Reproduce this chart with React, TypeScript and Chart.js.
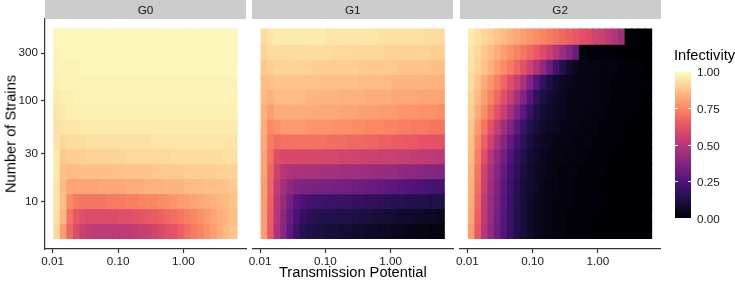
import React, { useEffect, useRef } from 'react';
import { Chart, registerables } from 'chart.js';

Chart.register(...registerables);

// ---------------- data ----------------
const facetNames = ['G0', 'G1', 'G2'];

// column centres (Transmission Potential)
const transmissionPotential = [
  0.01175, 0.01479, 0.01862, 0.02344, 0.02951, 0.03715, 0.04677, 0.05888, 0.07413, 0.09333,
  0.1175, 0.1479, 0.1862, 0.2344, 0.2951, 0.3715, 0.4677, 0.5888, 0.7413, 0.9333,
  1.175, 1.479, 1.862, 2.344, 2.951, 3.715, 4.677, 5.888,
];

// row centres (Number of Strains), bottom to top
const numberOfStrains = [5.1, 7.2, 10.1, 14.3, 20.1, 28.3, 39.8, 56.1, 78.9, 111, 156, 220, 310, 437];

const xTickValues = [0.01, 0.1, 1];
const xTickLabels = ['0.01', '0.10', '1.00'];
const yTickValues = [10, 30, 100, 300];
const yTickLabels = ['10', '30', '100', '300'];
const legendTickValues = [0, 0.25, 0.5, 0.75, 1];
const legendTickLabels = ['0.00', '0.25', '0.50', '0.75', '1.00'];

// infectivity, rows bottom (fewest strains) to top, 28 columns each
const infectivityG0 = [
  [0.92, 0.80, 0.68, 0.60, 0.55, 0.53, 0.52, 0.52, 0.52, 0.52, 0.52, 0.52, 0.53, 0.54, 0.55, 0.57, 0.59, 0.61, 0.63, 0.66, 0.69, 0.72, 0.74, 0.77, 0.80, 0.83, 0.86, 0.88],
  [0.94, 0.85, 0.70, 0.64, 0.61, 0.60, 0.60, 0.60, 0.60, 0.60, 0.61, 0.61, 0.62, 0.63, 0.64, 0.65, 0.66, 0.68, 0.69, 0.71, 0.73, 0.75, 0.77, 0.79, 0.81, 0.83, 0.85, 0.87],
  [0.95, 0.87, 0.76, 0.72, 0.71, 0.71, 0.71, 0.71, 0.72, 0.72, 0.72, 0.73, 0.73, 0.74, 0.75, 0.75, 0.76, 0.77, 0.78, 0.79, 0.80, 0.81, 0.82, 0.83, 0.84, 0.85, 0.86, 0.88],
  [0.95, 0.86, 0.81, 0.81, 0.81, 0.81, 0.81, 0.82, 0.82, 0.82, 0.82, 0.83, 0.83, 0.83, 0.84, 0.84, 0.84, 0.85, 0.85, 0.85, 0.86, 0.86, 0.86, 0.87, 0.87, 0.87, 0.88, 0.89],
  [0.96, 0.87, 0.86, 0.86, 0.87, 0.87, 0.87, 0.87, 0.87, 0.87, 0.88, 0.88, 0.88, 0.88, 0.88, 0.89, 0.89, 0.89, 0.89, 0.89, 0.90, 0.90, 0.90, 0.90, 0.90, 0.91, 0.91, 0.91],
  [0.96, 0.89, 0.90, 0.90, 0.90, 0.91, 0.91, 0.91, 0.91, 0.91, 0.91, 0.92, 0.92, 0.92, 0.92, 0.92, 0.92, 0.92, 0.93, 0.93, 0.93, 0.93, 0.93, 0.93, 0.93, 0.93, 0.94, 0.94],
  [0.95, 0.92, 0.93, 0.93, 0.93, 0.94, 0.94, 0.94, 0.94, 0.94, 0.94, 0.94, 0.94, 0.94, 0.94, 0.95, 0.95, 0.95, 0.95, 0.95, 0.95, 0.95, 0.95, 0.95, 0.95, 0.95, 0.95, 0.95],
  [0.94, 0.95, 0.95, 0.95, 0.96, 0.96, 0.96, 0.96, 0.96, 0.96, 0.96, 0.96, 0.96, 0.96, 0.96, 0.96, 0.96, 0.96, 0.96, 0.96, 0.96, 0.96, 0.96, 0.96, 0.96, 0.96, 0.96, 0.96],
  [0.95, 0.96, 0.97, 0.97, 0.97, 0.97, 0.97, 0.97, 0.97, 0.97, 0.97, 0.97, 0.97, 0.97, 0.97, 0.97, 0.97, 0.97, 0.97, 0.97, 0.97, 0.97, 0.97, 0.97, 0.97, 0.97, 0.97, 0.97],
  [0.96, 0.97, 0.97, 0.98, 0.98, 0.98, 0.98, 0.98, 0.98, 0.98, 0.98, 0.98, 0.98, 0.98, 0.98, 0.98, 0.98, 0.98, 0.98, 0.98, 0.98, 0.98, 0.98, 0.98, 0.98, 0.98, 0.98, 0.98],
  [0.97, 0.98, 0.98, 0.98, 0.98, 0.98, 0.98, 0.98, 0.98, 0.98, 0.98, 0.98, 0.98, 0.98, 0.98, 0.98, 0.98, 0.98, 0.98, 0.98, 0.98, 0.98, 0.98, 0.98, 0.98, 0.98, 0.98, 0.98],
  [0.98, 0.98, 0.98, 0.98, 0.99, 0.99, 0.99, 0.99, 0.99, 0.99, 0.99, 0.99, 0.99, 0.99, 0.99, 0.99, 0.99, 0.99, 0.99, 0.99, 0.99, 0.99, 0.99, 0.99, 0.99, 0.99, 0.99, 0.99],
  [0.98, 0.99, 0.99, 0.99, 0.99, 0.99, 0.99, 0.99, 0.99, 0.99, 0.99, 0.99, 0.99, 0.99, 0.99, 0.99, 0.99, 0.99, 0.99, 0.99, 0.99, 0.99, 0.99, 0.99, 0.99, 0.99, 0.99, 0.99],
  [0.99, 0.99, 0.99, 0.99, 0.99, 0.99, 0.99, 0.99, 0.99, 0.99, 0.99, 0.99, 0.99, 0.99, 0.99, 0.99, 0.99, 0.99, 0.99, 0.99, 0.99, 0.99, 0.99, 0.99, 0.99, 0.99, 0.99, 0.99],
];

const infectivityG1 = [
  [0.80, 0.64, 0.48, 0.38, 0.28, 0.20, 0.15, 0.13, 0.12, 0.11, 0.10, 0.10, 0.09, 0.09, 0.08, 0.08, 0.07, 0.07, 0.06, 0.06, 0.05, 0.05, 0.04, 0.04, 0.03, 0.03, 0.02, 0.02],
  [0.80, 0.65, 0.50, 0.40, 0.31, 0.23, 0.18, 0.16, 0.15, 0.14, 0.14, 0.13, 0.13, 0.12, 0.12, 0.11, 0.11, 0.10, 0.10, 0.09, 0.09, 0.08, 0.08, 0.07, 0.07, 0.06, 0.06, 0.05],
  [0.80, 0.66, 0.51, 0.42, 0.34, 0.27, 0.24, 0.22, 0.21, 0.21, 0.20, 0.20, 0.19, 0.19, 0.18, 0.18, 0.17, 0.17, 0.16, 0.16, 0.15, 0.15, 0.14, 0.14, 0.13, 0.13, 0.12, 0.12],
  [0.80, 0.67, 0.53, 0.45, 0.40, 0.37, 0.36, 0.36, 0.35, 0.35, 0.35, 0.34, 0.34, 0.33, 0.33, 0.32, 0.31, 0.31, 0.30, 0.29, 0.28, 0.27, 0.26, 0.25, 0.24, 0.23, 0.22, 0.22],
  [0.81, 0.68, 0.56, 0.50, 0.48, 0.47, 0.47, 0.47, 0.47, 0.46, 0.46, 0.46, 0.45, 0.45, 0.45, 0.44, 0.44, 0.43, 0.43, 0.42, 0.42, 0.41, 0.40, 0.40, 0.39, 0.38, 0.38, 0.37],
  [0.81, 0.70, 0.61, 0.59, 0.59, 0.59, 0.59, 0.59, 0.58, 0.58, 0.58, 0.58, 0.57, 0.57, 0.57, 0.56, 0.56, 0.56, 0.55, 0.55, 0.55, 0.54, 0.54, 0.53, 0.53, 0.52, 0.52, 0.51],
  [0.82, 0.72, 0.69, 0.70, 0.70, 0.70, 0.70, 0.70, 0.70, 0.70, 0.69, 0.69, 0.69, 0.68, 0.68, 0.68, 0.67, 0.67, 0.66, 0.66, 0.65, 0.65, 0.64, 0.64, 0.63, 0.63, 0.62, 0.62],
  [0.83, 0.75, 0.77, 0.79, 0.79, 0.79, 0.79, 0.78, 0.78, 0.78, 0.78, 0.77, 0.77, 0.77, 0.76, 0.76, 0.75, 0.75, 0.75, 0.74, 0.74, 0.73, 0.73, 0.72, 0.72, 0.72, 0.71, 0.71],
  [0.84, 0.80, 0.83, 0.83, 0.83, 0.83, 0.83, 0.83, 0.82, 0.82, 0.82, 0.82, 0.81, 0.81, 0.81, 0.80, 0.80, 0.80, 0.79, 0.79, 0.79, 0.78, 0.78, 0.78, 0.77, 0.77, 0.77, 0.76],
  [0.86, 0.84, 0.86, 0.86, 0.86, 0.86, 0.86, 0.85, 0.85, 0.85, 0.85, 0.85, 0.84, 0.84, 0.84, 0.84, 0.83, 0.83, 0.83, 0.83, 0.82, 0.82, 0.82, 0.82, 0.81, 0.81, 0.81, 0.81],
  [0.87, 0.87, 0.88, 0.88, 0.88, 0.88, 0.88, 0.88, 0.88, 0.87, 0.87, 0.87, 0.87, 0.87, 0.87, 0.86, 0.86, 0.86, 0.86, 0.86, 0.85, 0.85, 0.85, 0.85, 0.85, 0.84, 0.84, 0.84],
  [0.89, 0.90, 0.91, 0.91, 0.91, 0.91, 0.91, 0.91, 0.90, 0.90, 0.90, 0.90, 0.90, 0.90, 0.90, 0.89, 0.89, 0.89, 0.89, 0.89, 0.89, 0.88, 0.88, 0.88, 0.88, 0.88, 0.87, 0.87],
  [0.91, 0.93, 0.93, 0.93, 0.93, 0.93, 0.93, 0.93, 0.93, 0.93, 0.93, 0.92, 0.92, 0.92, 0.92, 0.92, 0.92, 0.92, 0.92, 0.91, 0.91, 0.91, 0.91, 0.91, 0.91, 0.91, 0.90, 0.90],
  [0.93, 0.95, 0.96, 0.96, 0.96, 0.96, 0.96, 0.96, 0.96, 0.96, 0.95, 0.95, 0.95, 0.95, 0.95, 0.95, 0.95, 0.95, 0.94, 0.94, 0.94, 0.94, 0.94, 0.94, 0.94, 0.93, 0.93, 0.93],
];

const infectivityG2 = [
  [0.80, 0.64, 0.50, 0.41, 0.33, 0.26, 0.19, 0.14, 0.10, 0.07, 0.05, 0.04, 0.03, 0.02, 0.02, 0.01, 0.01, 0.01, 0.01, 0.00, 0.00, 0.00, 0.00, 0.00, 0.00, 0.00, 0.00, 0.00],
  [0.82, 0.66, 0.52, 0.42, 0.34, 0.26, 0.19, 0.14, 0.10, 0.07, 0.05, 0.04, 0.03, 0.02, 0.02, 0.01, 0.01, 0.01, 0.01, 0.00, 0.00, 0.00, 0.00, 0.00, 0.00, 0.00, 0.00, 0.00],
  [0.83, 0.68, 0.53, 0.43, 0.35, 0.27, 0.20, 0.14, 0.10, 0.07, 0.05, 0.04, 0.03, 0.02, 0.02, 0.02, 0.01, 0.01, 0.01, 0.01, 0.00, 0.00, 0.00, 0.00, 0.00, 0.00, 0.00, 0.00],
  [0.84, 0.69, 0.55, 0.44, 0.36, 0.28, 0.21, 0.15, 0.10, 0.08, 0.06, 0.04, 0.03, 0.03, 0.02, 0.02, 0.01, 0.01, 0.01, 0.01, 0.00, 0.00, 0.00, 0.00, 0.00, 0.00, 0.00, 0.00],
  [0.85, 0.71, 0.57, 0.46, 0.38, 0.30, 0.22, 0.16, 0.11, 0.08, 0.06, 0.05, 0.04, 0.03, 0.02, 0.02, 0.02, 0.01, 0.01, 0.01, 0.01, 0.00, 0.00, 0.00, 0.00, 0.00, 0.00, 0.00],
  [0.86, 0.73, 0.61, 0.50, 0.41, 0.33, 0.25, 0.18, 0.13, 0.09, 0.07, 0.05, 0.04, 0.03, 0.03, 0.02, 0.02, 0.02, 0.01, 0.01, 0.01, 0.01, 0.00, 0.00, 0.00, 0.00, 0.00, 0.00],
  [0.87, 0.76, 0.66, 0.56, 0.47, 0.38, 0.30, 0.22, 0.16, 0.11, 0.08, 0.06, 0.05, 0.04, 0.03, 0.03, 0.02, 0.02, 0.02, 0.01, 0.01, 0.01, 0.01, 0.00, 0.00, 0.00, 0.00, 0.00],
  [0.88, 0.79, 0.71, 0.62, 0.54, 0.45, 0.37, 0.28, 0.20, 0.14, 0.10, 0.08, 0.06, 0.05, 0.04, 0.03, 0.03, 0.02, 0.02, 0.02, 0.01, 0.01, 0.01, 0.01, 0.00, 0.00, 0.00, 0.00],
  [0.90, 0.83, 0.76, 0.69, 0.62, 0.54, 0.46, 0.37, 0.28, 0.19, 0.13, 0.09, 0.07, 0.06, 0.05, 0.04, 0.03, 0.03, 0.02, 0.02, 0.02, 0.01, 0.01, 0.01, 0.01, 0.00, 0.00, 0.00],
  [0.91, 0.86, 0.80, 0.74, 0.68, 0.61, 0.54, 0.46, 0.37, 0.27, 0.18, 0.12, 0.09, 0.07, 0.05, 0.04, 0.04, 0.03, 0.03, 0.02, 0.02, 0.02, 0.01, 0.01, 0.01, 0.01, 0.00, 0.00],
  [0.93, 0.88, 0.83, 0.78, 0.73, 0.67, 0.61, 0.55, 0.47, 0.37, 0.27, 0.18, 0.12, 0.08, 0.06, 0.05, 0.04, 0.03, 0.03, 0.02, 0.02, 0.02, 0.01, 0.01, 0.01, 0.01, 0.00, 0.00],
  [0.94, 0.91, 0.88, 0.84, 0.80, 0.76, 0.72, 0.67, 0.62, 0.56, 0.49, 0.41, 0.32, 0.22, 0.14, 0.08, 0.05, 0.04, 0.03, 0.03, 0.02, 0.02, 0.02, 0.01, 0.01, 0.01, 0.01, 0.00],
  [0.95, 0.92, 0.89, 0.86, 0.83, 0.80, 0.77, 0.74, 0.71, 0.68, 0.64, 0.60, 0.55, 0.50, 0.44, 0.38, 0.31, 0.02, 0.01, 0.01, 0.01, 0.01, 0.00, 0.00, 0.00, 0.00, 0.00, 0.00],
  [0.96, 0.94, 0.92, 0.90, 0.88, 0.86, 0.84, 0.82, 0.80, 0.78, 0.76, 0.74, 0.72, 0.70, 0.68, 0.66, 0.64, 0.62, 0.60, 0.57, 0.55, 0.52, 0.49, 0.45, 0.00, 0.00, 0.00, 0.00],
];

const facetValues = [infectivityG0, infectivityG1, infectivityG2];

// ---------------- style / layout ----------------
const W = 735;
const H = 282;
const FONT = "'Liberation Sans', Arial, Helvetica, sans-serif";
const PANEL_LEFTS = [45, 252.3, 459.6];
const PANEL_W = 201;
const PANEL_TOP = 19;
const PANEL_BOTTOM = 249;
const Y_AXIS_W = 45;
const X_MIN = Math.log10(0.00762);
const X_MAX = Math.log10(9.12);
const Y_MIN = Math.log10(3.365);
const Y_MAX = Math.log10(654.6);
const AXIS_COLOR = '#333333';
const TEXT_COLOR = '#1a1a1a';
const STRIP_FILL = '#cccccc';

const MAGMA = ['#000004', '#1d1147', '#51127c', '#822681', '#b63679', '#e65164', '#fb8861', '#fec287', '#fcfdbf'];

function hexToRgb(h: string) {
  return [parseInt(h.slice(1, 3), 16), parseInt(h.slice(3, 5), 16), parseInt(h.slice(5, 7), 16)];
}
const MAGMA_RGB = MAGMA.map(hexToRgb);

function magma(v: number) {
  const t = Math.max(0, Math.min(1, v)) * (MAGMA_RGB.length - 1);
  const i = Math.min(Math.floor(t), MAGMA_RGB.length - 2);
  const f = t - i;
  const a = MAGMA_RGB[i];
  const b = MAGMA_RGB[i + 1];
  const c = a.map((x, k) => Math.round(x + (b[k] - x) * f));
  return `rgb(${c[0]},${c[1]},${c[2]})`;
}

// tile edges in log space, like geom_tile
const rowLog = numberOfStrains.map((s) => Math.log10(s));
const rowEdges = rowLog.map((c, i) => {
  const below = i > 0 ? (c + rowLog[i - 1]) / 2 : c - (rowLog[i + 1] - c) / 2;
  const above = i < rowLog.length - 1 ? (c + rowLog[i + 1]) / 2 : c + (c - rowLog[i - 1]) / 2;
  return [below, above];
});

function buildChart(canvas: HTMLCanvasElement, facet: number) {
  const values = facetValues[facet];
  const cells: { x: number; y: number[] }[] = [];
  const colors: string[] = [];
  numberOfStrains.forEach((_s, r) => {
    transmissionPotential.forEach((tp, c) => {
      cells.push({ x: Math.log10(tp), y: rowEdges[r] });
      colors.push(magma(values[r][c]));
    });
  });

  const panelLeft = PANEL_LEFTS[facet];
  const showY = facet === 0;

  const gridCfg = {
    display: true,
    offset: false,
    drawOnChartArea: false,
    drawTicks: true,
    tickLength: 4,
    tickWidth: 1.2,
    tickColor: AXIS_COLOR,
    color: AXIS_COLOR,
  };

  const yScale: any = {
    type: 'linear',
    display: showY,
    min: Y_MIN,
    max: Y_MAX,
    beginAtZero: false,
    offset: false,
    grid: gridCfg,
    border: { display: true, color: AXIS_COLOR, width: 1.2 },
    afterBuildTicks: (scale: any) => {
      scale.ticks = yTickValues.map((v) => ({ value: Math.log10(v) }));
    },
    ticks: {
      autoSkip: false,
      padding: 3,
      color: TEXT_COLOR,
      font: { family: FONT, size: 11.7 },
      callback: (_v: any, i: number) => yTickLabels[i],
    },
  };
  if (showY) {
    yScale.afterFit = (scale: any) => {
      scale.width = Y_AXIS_W;
    };
  }

  return new Chart(canvas, {
    type: 'bar',
    data: {
      datasets: [
        {
          data: cells as any,
          backgroundColor: colors,
          borderWidth: 0,
          barPercentage: 1,
          categoryPercentage: 1,
          inflateAmount: 0.7,
        },
      ],
    },
    options: {
      animation: false,
      responsive: false,
      maintainAspectRatio: false,
      events: [],
      layout: {
        padding: {
          left: showY ? panelLeft - Y_AXIS_W : panelLeft,
          right: W - (panelLeft + PANEL_W),
          top: PANEL_TOP,
          bottom: 0,
        },
      },
      plugins: {
        legend: { display: false },
        tooltip: { enabled: false },
        title: { display: false },
      },
      scales: {
        x: {
          type: 'linear',
          min: X_MIN,
          max: X_MAX,
          offset: false,
          grid: gridCfg,
          border: { display: true, color: AXIS_COLOR, width: 1.2 },
          afterBuildTicks: (scale: any) => {
            scale.ticks = xTickValues.map((v) => ({ value: Math.log10(v) }));
          },
          afterFit: (scale: any) => {
            scale.height = H - PANEL_BOTTOM;
          },
          ticks: {
            autoSkip: false,
            maxRotation: 0,
            minRotation: 0,
            padding: 2,
            color: TEXT_COLOR,
            font: { family: FONT, size: 11.7 },
            callback: (_v: any, i: number) => xTickLabels[i],
          },
        },
        y: yScale,
      },
    } as any,
  });
}

// legend geometry
const BAR_LEFT = 675;
const BAR_TOP = 71.7;
const BAR_W = 16;
const BAR_H = 146.6;

export default function App() {
  const ref0 = useRef<HTMLCanvasElement>(null);
  const ref1 = useRef<HTMLCanvasElement>(null);
  const ref2 = useRef<HTMLCanvasElement>(null);
  const refs = [ref0, ref1, ref2];

  useEffect(() => {
    const charts = refs.map((r, i) => buildChart(r.current as HTMLCanvasElement, i));
    return () => charts.forEach((c) => c.destroy());
  }, []);

  const gradient = `linear-gradient(to top, ${MAGMA.map((c, i) => `${c} ${(i / (MAGMA.length - 1)) * 100}%`).join(', ')})`;

  return (
    <div
      style={{
        position: 'fixed',
        left: 0,
        top: 0,
        width: W,
        height: H,
        background: '#ffffff',
        overflow: 'hidden',
        fontFamily: FONT,
      }}
    >
      {facetNames.map((n, i) => (
        <canvas
          key={'c' + n}
          ref={refs[i]}
          width={W}
          height={H}
          style={{ position: 'absolute', left: 0, top: 0, width: W, height: H }}
        />
      ))}
      {facetNames.map((n, i) => (
        <div
          key={'s' + n}
          style={{
            position: 'absolute',
            left: PANEL_LEFTS[i],
            top: 0,
            width: PANEL_W,
            height: PANEL_TOP,
            background: STRIP_FILL,
            color: TEXT_COLOR,
            fontSize: 11.7,
            lineHeight: PANEL_TOP + 'px',
            textAlign: 'center',
          }}
        >
          {n}
        </div>
      ))}
      <div
        style={{
          position: 'absolute',
          left: PANEL_LEFTS[0],
          width: PANEL_LEFTS[2] + PANEL_W - PANEL_LEFTS[0],
          top: 263.6,
          fontSize: 14.67,
          lineHeight: '17px',
          textAlign: 'center',
          color: '#000',
          whiteSpace: 'nowrap',
        }}
      >
        Transmission Potential
      </div>
      <div
        style={{
          position: 'absolute',
          left: 11,
          top: (PANEL_TOP + PANEL_BOTTOM) / 2,
          fontSize: 14.67,
          lineHeight: '17px',
          color: '#000',
          whiteSpace: 'nowrap',
          transform: 'translate(-50%, -50%) rotate(-90deg)',
        }}
      >
        Number of Strains
      </div>
      <div
        style={{
          position: 'absolute',
          left: 674,
          top: 47.4,
          fontSize: 14.67,
          lineHeight: '17px',
          color: '#000',
          whiteSpace: 'nowrap',
        }}
      >
        Infectivity
      </div>
      <div
        style={{
          position: 'absolute',
          left: BAR_LEFT,
          top: BAR_TOP,
          width: BAR_W,
          height: BAR_H,
          background: gradient,
        }}
      />
      {legendTickValues
        .filter((v) => v > 0 && v < 1)
        .map((v) => {
          const y = BAR_TOP + (1 - v) * BAR_H;
          return (
            <React.Fragment key={'t' + v}>
              <div style={{ position: 'absolute', left: BAR_LEFT, top: y - 0.5, width: 3, height: 1, background: '#fff' }} />
              <div style={{ position: 'absolute', left: BAR_LEFT + BAR_W - 3, top: y - 0.5, width: 3, height: 1, background: '#fff' }} />
            </React.Fragment>
          );
        })}
      {legendTickValues.map((v, i) => (
        <div
          key={'l' + v}
          style={{
            position: 'absolute',
            left: 697,
            top: BAR_TOP + (1 - v) * BAR_H - 6.5,
            fontSize: 11.7,
            lineHeight: '13px',
            color: TEXT_COLOR,
            whiteSpace: 'nowrap',
          }}
        >
          {legendTickLabels[i]}
        </div>
      ))}
    </div>
  );
}
